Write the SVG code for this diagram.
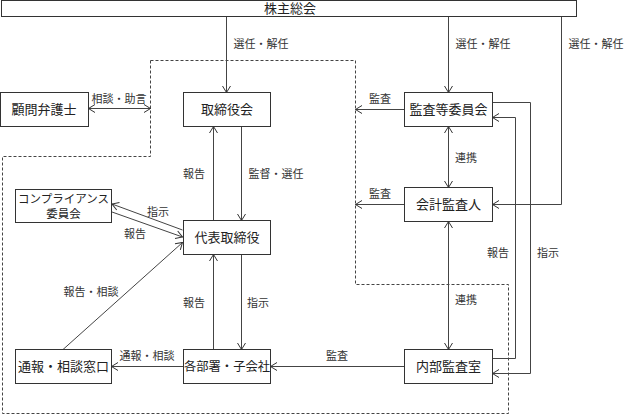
<svg xmlns="http://www.w3.org/2000/svg" width="624" height="415" viewBox="0 0 624 415">
<defs>
<style>
.box{fill:#fff;stroke:#333;stroke-width:1}
.t{font-family:"Liberation Serif","Noto Sans CJK JP",serif;font-size:13px;fill:#222;text-anchor:middle}
.l{font-family:"Liberation Serif","Noto Sans CJK JP",serif;font-size:11px;fill:#333;text-anchor:middle}
.c{fill:none;stroke:#444;stroke-width:1}
.dash{fill:none;stroke:#444;stroke-width:1;stroke-dasharray:3,2}
</style>
<marker id="a" viewBox="0 0 8 10" refX="7.5" refY="5" markerWidth="8" markerHeight="10" markerUnits="userSpaceOnUse" orient="auto-start-reverse">
<path d="M1,1 L7.5,5 L1,9" fill="none" stroke="#333" stroke-width="1"/>
</marker>
</defs>
<rect width="624" height="415" fill="#fff"/>

<path class="dash" d="M150.5,60.5 H355.5 V284.5 H508.5 V413.5 H2.5 V156.5 H150.5 Z"/>

<g id="connectors">
<path class="c" d="M226.5,16.5 V92.5" marker-end="url(#a)"/>
<path class="c" d="M448.5,16.5 V92.5" marker-end="url(#a)"/>
<path class="c" d="M561.5,16.5 V204.5 H492.5" marker-end="url(#a)"/>
<path class="c" d="M88.5,108.5 H150.5" marker-start="url(#a)" marker-end="url(#a)"/>
<path class="c" d="M404.5,109.5 H355.5" marker-end="url(#a)"/>
<path class="c" d="M404.5,204.5 H355.5" marker-end="url(#a)"/>
<path class="c" d="M448.5,126.5 V187.5" marker-start="url(#a)" marker-end="url(#a)"/>
<path class="c" d="M448.5,221.5 V349.5" marker-start="url(#a)" marker-end="url(#a)"/>
<path class="c" d="M213.5,220.5 V126.5" marker-end="url(#a)"/>
<path class="c" d="M241.5,126.5 V220.5" marker-end="url(#a)"/>
<path class="c" d="M213.5,349.5 V254.5" marker-end="url(#a)"/>
<path class="c" d="M241.5,254.5 V349.5" marker-end="url(#a)"/>
<path class="c" d="M182.5,230 L112,204" marker-end="url(#a)"/>
<path class="c" d="M112,212 L182.5,237" marker-end="url(#a)"/>
<path class="c" d="M63,349.5 L182.5,242.5" marker-end="url(#a)"/>
<path class="c" d="M404.5,366.5 H270.5" marker-end="url(#a)"/>
<path class="c" d="M183.5,366.5 H111.5" marker-end="url(#a)"/>
<path class="c" d="M492.5,358.5 H515.5 V117.5 H492.5" marker-end="url(#a)"/>
<path class="c" d="M492.5,102.5 H530.5 V373.5 H492.5" marker-end="url(#a)"/>
</g>

<g id="labels">
<text class="l" x="261" y="48">選任・解任</text>
<text class="l" x="483" y="48">選任・解任</text>
<text class="l" x="596" y="48">選任・解任</text>
<text class="l" x="119" y="103">相談・助言</text>
<text class="l" x="380" y="103">監査</text>
<text class="l" x="194" y="178">報告</text>
<text class="l" x="276" y="178">監督・選任</text>
<text class="l" x="466" y="162">連携</text>
<text class="l" x="380" y="198">監査</text>
<text class="l" x="158" y="216">指示</text>
<text class="l" x="135" y="238">報告</text>
<text class="l" x="498" y="257">報告</text>
<text class="l" x="548" y="257">指示</text>
<text class="l" x="91" y="296">報告・相談</text>
<text class="l" x="194" y="307">報告</text>
<text class="l" x="258" y="307">指示</text>
<text class="l" x="466" y="304">連携</text>
<text class="l" x="147" y="360">通報・相談</text>
<text class="l" x="337" y="360">監査</text>
</g>

<g id="shareholders">
<rect class="box" x="1.5" y="0.5" width="575" height="16"/>
<text class="t" x="290" y="13">株主総会</text>
</g>
<g id="advisor">
<rect class="box" x="0.5" y="92.5" width="88" height="34"/>
<text class="t" x="44" y="114">顧問弁護士</text>
</g>
<g id="board">
<rect class="box" x="183.5" y="92.5" width="87" height="34"/>
<text class="t" x="227" y="114">取締役会</text>
</g>
<g id="audit-committee">
<rect class="box" x="404.5" y="92.5" width="88" height="34"/>
<text class="t" x="448.5" y="114">監査等委員会</text>
</g>
<g id="compliance">
<rect class="box" x="15.5" y="189.5" width="96" height="33"/>
<text class="t" x="63.5" y="203" style="font-size:11.5px">コンプライアンス</text>
<text class="t" x="63.5" y="218" style="font-size:11.5px">委員会</text>
</g>
<g id="ceo">
<rect class="box" x="183.5" y="220.5" width="87" height="34"/>
<text class="t" x="227" y="242">代表取締役</text>
</g>
<g id="accounting-auditor">
<rect class="box" x="404.5" y="187.5" width="88" height="34"/>
<text class="t" x="448.5" y="209">会計監査人</text>
</g>
<g id="hotline">
<rect class="box" x="15.5" y="349.5" width="96" height="34"/>
<text class="t" x="63.5" y="371">通報・相談窓口</text>
</g>
<g id="departments">
<rect class="box" x="183.5" y="349.5" width="87" height="34"/>
<text class="t" x="227" y="371" style="font-size:12.3px">各部署・子会社</text>
</g>
<g id="internal-audit">
<rect class="box" x="404.5" y="349.5" width="88" height="34"/>
<text class="t" x="448.5" y="371">内部監査室</text>
</g>
</svg>
